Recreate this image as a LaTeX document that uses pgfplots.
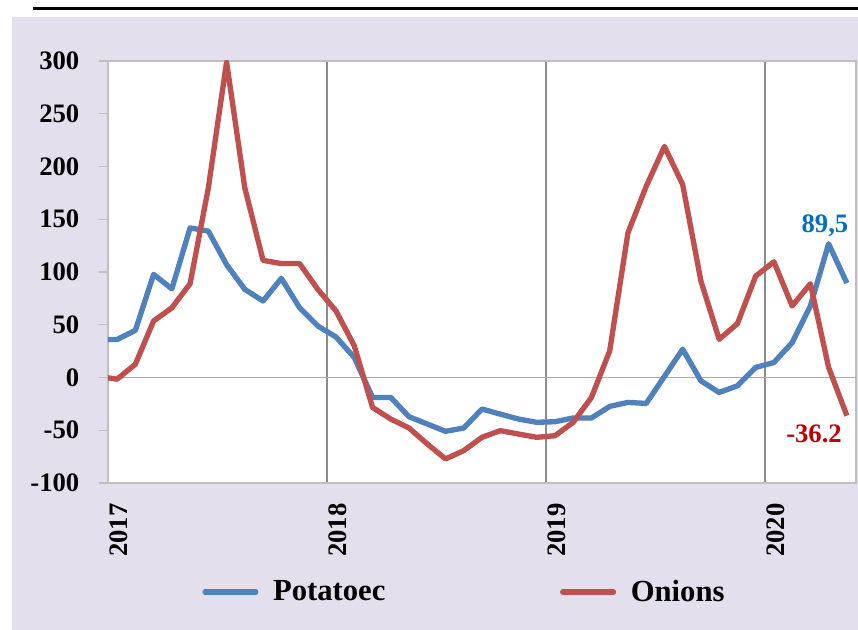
\documentclass[border=0pt]{standalone}
\usepackage{pgfplots}
\pgfplotsset{compat=1.18}
\usetikzlibrary{calc,backgrounds}
\usepackage{fontspec}
\setmainfont{Liberation Serif}
\definecolor{bgl}{HTML}{E4DFEC}
\definecolor{pblue}{HTML}{4F81BD}
\definecolor{ored}{HTML}{C0504D}
\definecolor{lblue}{HTML}{0070C0}
\definecolor{lred}{HTML}{C00000}
\definecolor{bord}{HTML}{BFBFBF}
\definecolor{vgrid}{HTML}{8C8C8C}
\definecolor{hgrid}{HTML}{ABABAB}
\begin{document}
\begin{tikzpicture}
\begin{axis}[
  scale only axis, width=561pt, height=316.5pt,
  xmin=0, xmax=41, ymin=-100, ymax=300,
  axis background/.style={fill=white},
  axis line style={draw=bord, line width=1.5pt},
  xtick={0,12,24,36}, xticklabels={2017,2018,2019,2020},
  ytick={-100,-50,...,300},
  xmajorgrids, major x grid style={draw=vgrid, line width=1.1pt},
  extra y ticks={0}, extra y tick labels={},
  extra y tick style={grid=major, major grid style={draw=hgrid, line width=1.1pt}, major tick length=0pt},
  tick align=outside, major tick length=6.75pt,
  ytick style={draw=bord, line width=1.1pt},
  xtick style={draw=none},
  ytick pos=left,
  /pgf/number format/assume math mode=true,
  tick label style={font=\bfseries\fontsize{20}{24}\selectfont},
  yticklabel style={anchor=east, xshift=-11.25pt},
  xticklabel style={yshift=-7.5pt, rotate=90, anchor=north east, inner sep=1pt},
  legend style={at={(0.477,-0.258)}, anchor=center, draw=none, fill=none,
    legend columns=2, font=\bfseries\fontsize{23}{27}\selectfont,
    /tikz/every odd column/.append style={column sep=9pt},
    /tikz/every even column/.append style={column sep=129pt}},
  legend image code/.code={\draw[#1,line width=4pt,line cap=round] (0pt,0pt) -- (38pt,0pt);},
  every axis plot/.append style={line width=4pt, line join=round, no markers},
]
\coordinate (O) at (rel axis cs:0,0);
\addplot[pblue] coordinates {
(-0.5,36) (0.5,36) (1.5,44.7) (2.5,97.7) (3.5,84) (4.5,141.8) (5.5,138.7) (6.5,107) (7.5,83.5) (8.5,72.5) (9.5,94) (10.5,66.2) (11.5,48.8) (12.5,38.4) (13.5,18.9) (14.5,-18.9) (15.5,-18.9) (16.5,-37.2) (17.5,-44.1) (18.5,-51) (19.5,-47.9) (20.5,-29.9) (21.5,-34.7) (22.5,-39.4) (23.5,-42.5) (24.5,-41.9) (25.5,-38.4) (26.5,-38.4) (27.5,-27.4) (28.5,-23.6) (29.5,-24.6) (30.5,1) (31.5,26.8) (32.5,-3.2) (33.5,-14.2) (34.5,-7.9) (35.5,9.5) (36.5,14.2) (37.5,33.1) (38.5,67.8) (39.5,126.7) (40.5,89.5)
};
\addlegendentry{Potatoec}
\addplot[ored] coordinates {
(-0.5,1) (0.5,-1.6) (1.5,12.6) (2.5,53.6) (3.5,66) (4.5,89) (5.5,179.6) (6.5,299) (7.5,179.6) (8.5,111) (9.5,108) (10.5,108) (11.5,83.5) (12.5,63) (13.5,30) (14.5,-28.4) (15.5,-39.4) (16.5,-47.9) (17.5,-63) (18.5,-77.2) (19.5,-69.3) (20.5,-56.7) (21.5,-50.4) (22.5,-53.6) (23.5,-56.7) (24.5,-55.2) (25.5,-42.5) (26.5,-18.9) (27.5,25.2) (28.5,137.1) (29.5,181.2) (30.5,219) (31.5,182.8) (32.5,91.4) (33.5,36.2) (34.5,51) (35.5,96.1) (36.5,109.7) (37.5,67.8) (38.5,88.9) (39.5,9.5) (40.5,-36.2)
};
\addlegendentry{Onions}
\node[anchor=base, text=lblue, font=\bfseries\fontsize{20}{24}\selectfont] at (axis cs:39.3,137) {89,5};
\node[anchor=base, text=lred, font=\bfseries\fontsize{20}{24}\selectfont] at (axis cs:38.7,-61.8) {-36.2};
\end{axis}
\pgfresetboundingbox
\begin{scope}[on background layer]
\path[use as bounding box, fill=white] ($(O)+(-81pt,-110.25pt)$) rectangle ($(O)+(562.5pt,362.25pt)$);
\fill[bgl] ($(O)+(-72pt,-110.25pt)$) rectangle ($(O)+(562.5pt,349.5pt)$);
\draw[black, line width=2.25pt] ($(O)+(-56.25pt,355.5pt)$) -- ($(O)+(562.5pt,355.5pt)$);
\end{scope}
\end{tikzpicture}
\end{document}
